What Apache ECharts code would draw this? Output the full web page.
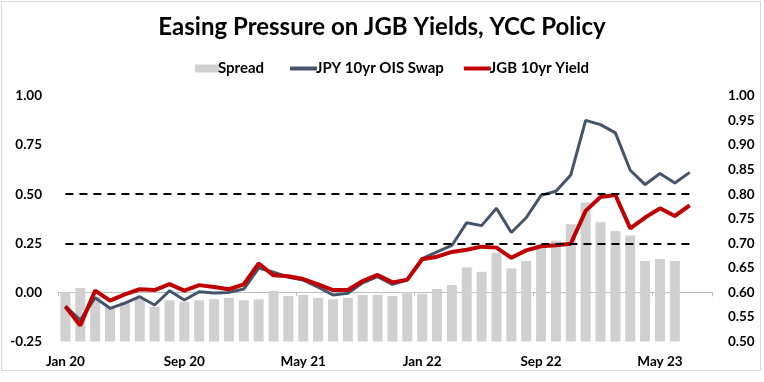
<!DOCTYPE html>
<html>
<head>
<meta charset="utf-8">
<script src="https://cdn.jsdelivr.net/npm/echarts@6/dist/echarts.min.js"></script>
<style>
html,body{margin:0;padding:0;background:#fff;}
#chart{width:764px;height:382px;}
</style>
</head>
<body>
<div id="chart"></div>
<script>
const months = ["Jan 20","Feb 20","Mar 20","Apr 20","May 20","Jun 20","Jul 20","Aug 20","Sep 20","Oct 20","Nov 20","Dec 20",
  "Jan 21","Feb 21","Mar 21","Apr 21","May 21","Jun 21","Jul 21","Aug 21","Sep 21","Oct 21","Nov 21","Dec 21",
  "Jan 22","Feb 22","Mar 22","Apr 22","May 22","Jun 22","Jul 22","Aug 22","Sep 22","Oct 22","Nov 22","Dec 22",
  "Jan 23","Feb 23","Mar 23","Apr 23","May 23","Jun 23","Jul 23","Aug 23"];

const spread = [0.601,0.609,0.591,0.569,0.581,0.587,0.571,0.584,0.581,0.584,0.586,0.589,
  0.584,0.586,0.603,0.593,0.595,0.589,0.586,0.589,0.595,0.595,0.593,0.601,
  0.597,0.607,0.615,0.651,0.642,0.681,0.649,0.664,0.690,0.705,0.739,0.783,
  0.743,0.725,0.716,0.664,0.668,0.664,null,null];

const oisSwap = [-0.070,-0.141,-0.027,-0.081,-0.055,-0.022,-0.064,0.008,-0.039,0.003,-0.003,0.000,
  0.017,0.124,0.103,0.077,0.063,0.027,-0.013,-0.005,0.049,0.080,0.041,0.063,
  0.172,0.206,0.239,0.355,0.340,0.428,0.305,0.380,0.494,0.515,0.598,0.876,
  0.854,0.812,0.622,0.549,0.605,0.557,0.611,null];

const jgbYield = [-0.072,-0.168,0.009,-0.042,-0.010,0.016,0.012,0.042,0.009,0.037,0.028,0.016,
  0.041,0.147,0.087,0.082,0.068,0.041,0.012,0.012,0.058,0.089,0.051,0.065,
  0.169,0.182,0.206,0.217,0.233,0.228,0.176,0.214,0.235,0.240,0.248,0.415,
  0.486,0.496,0.326,0.381,0.428,0.389,0.443,null];

const leftTicks = {min:-0.25, max:1.00, step:0.25};
const rightTicks = {min:0.50, max:1.00, step:0.05};
const bandLevels = [0.50, 0.25];
const bandStart = "Jan 20", bandEnd = "Jul 23";

const FONT = "Lato";
const chart = echarts.init(document.getElementById('chart'), null, {renderer:'canvas'});
const axisLabelStyle = {color:'#000', fontFamily:FONT, fontWeight:'bold', fontSize:13.5};
const legendText = {color:'#000', fontFamily:FONT, fontWeight:'bold', fontSize:15, padding:[0,0,0,-6]};

chart.setOption({
  animation:false,
  backgroundColor:'#fff',
  graphic:[{type:'rect', shape:{x:1.5,y:1.5,width:759,height:369}, style:{fill:'none', stroke:'#d9d9d9', lineWidth:1}, silent:true}],
  title:{
    text:'Easing Pressure on JGB Yields, YCC Policy',
    left:'center', top:10,
    textStyle:{color:'#000', fontFamily:FONT, fontWeight:'bold', fontSize:24}
  },
  legend:[
    {top:56, left:190, itemWidth:24, itemHeight:8, textStyle:legendText,
     data:[{name:'Spread', icon:'rect'}]},
    {top:56, left:285, itemGap:20, itemWidth:27, itemHeight:4, textStyle:legendText,
     data:[{name:'JPY 10yr OIS Swap', icon:'rect'},{name:'JGB 10yr Yield', icon:'rect'}]}
  ],
  grid:{left:58, right:52, top:96, bottom:40.5, containLabel:false},
  xAxis:{
    type:'category', data:months, boundaryGap:true,
    axisLine:{lineStyle:{color:'#bfbfbf', width:1}},
    axisTick:{show:true, interval:7, length:4, alignWithLabel:false, lineStyle:{color:'#bfbfbf'}},
    axisLabel:Object.assign({interval:7, margin:13}, axisLabelStyle),
    splitLine:{show:false}
  },
  yAxis:[
    {type:'value', min:leftTicks.min, max:leftTicks.max, interval:leftTicks.step,
     axisLine:{show:false}, axisTick:{show:false}, splitLine:{show:false},
     axisLabel:Object.assign({margin:16, formatter:v=>v.toFixed(2)}, axisLabelStyle)},
    {type:'value', min:rightTicks.min, max:rightTicks.max, interval:rightTicks.step,
     axisLine:{show:false}, axisTick:{show:false}, splitLine:{show:false},
     axisLabel:Object.assign({margin:16, formatter:v=>v.toFixed(2)}, axisLabelStyle)}
  ],
  series:[
    {name:'Spread', type:'bar', yAxisIndex:1, data:spread, barWidth:10, clip:true,
     itemStyle:{color:'#d0d0d0'}},
    {name:'JPY 10yr OIS Swap', type:'line', yAxisIndex:0, data:oisSwap, symbol:'none',
     lineStyle:{color:'#44546a', width:3}, itemStyle:{color:'#44546a'}},
    {name:'JGB 10yr Yield', type:'line', yAxisIndex:0, data:jgbYield, symbol:'none',
     lineStyle:{color:'#c00000', width:4}, itemStyle:{color:'#c00000'},
     markLine:{
       silent:true, symbol:'none', label:{show:false},
       lineStyle:{color:'#000', type:[8,6], width:2},
       data: bandLevels.map(l=>[{coord:[bandStart, l]},{coord:[bandEnd, l]}])
     }}
  ]
});
</script>
</body>
</html>
